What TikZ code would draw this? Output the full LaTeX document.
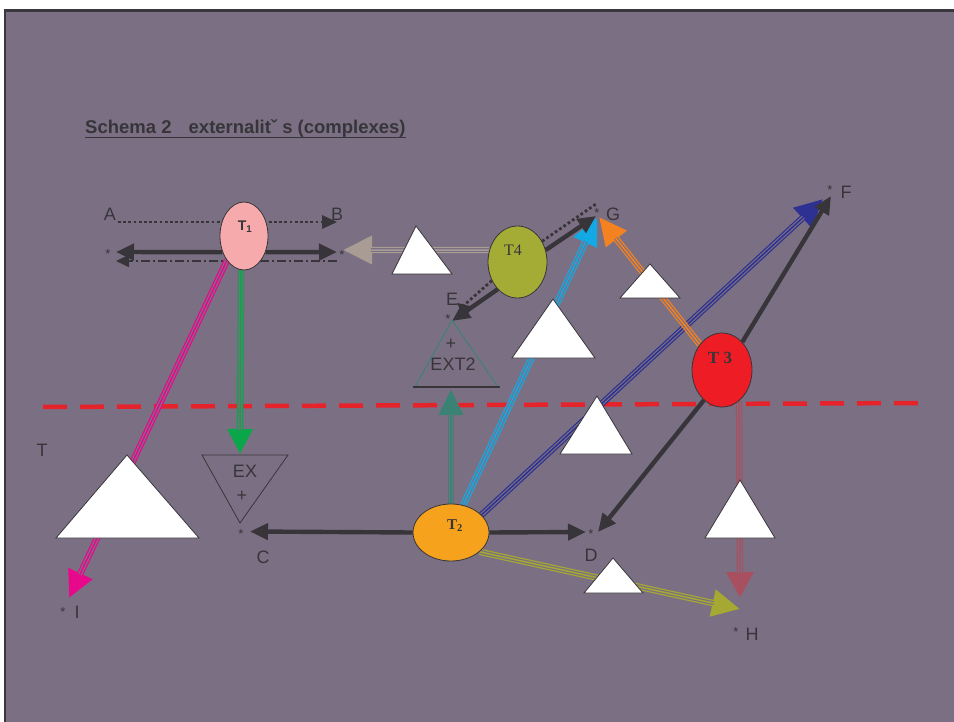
\documentclass[tikz,border=0pt]{standalone}
\usepackage{fontspec}
\setmainfont{Liberation Sans}
\newfontfamily\tnr{Liberation Serif}
\usetikzlibrary{arrows.meta,shapes.geometric}
\definecolor{bgc}{RGB}{123,112,131}
\definecolor{ink}{RGB}{55,53,58}
\definecolor{framec}{RGB}{58,56,62}
\definecolor{redd}{RGB}{229,35,42}
\definecolor{mag}{RGB}{232,8,140}
\definecolor{grn}{RGB}{12,166,74}
\definecolor{tealc}{RGB}{58,131,116}
\definecolor{sky}{RGB}{18,169,229}
\definecolor{navyc}{RGB}{46,49,146}
\definecolor{olivec}{RGB}{165,168,50}
\definecolor{orng}{RGB}{245,130,32}
\definecolor{mauve}{RGB}{168,80,95}
\definecolor{beige}{RGB}{168,156,149}
\definecolor{pinkT}{RGB}{247,170,172}
\definecolor{orT}{RGB}{246,162,29}
\definecolor{redT}{RGB}{238,28,37}
\definecolor{olT}{RGB}{165,172,53}
\pgfdeclarelayer{bglayer}
\pgfdeclarelayer{linelayer}
\pgfsetlayers{bglayer,linelayer,main}
% triple line with arrow head: colour, from, to, head length, head width
\newcommand\triline[5]{%
  \draw[#1, line width=6.4pt, -{Triangle[length=#4pt,width=#5pt]}] #2 -- #3;
  \draw[bgc, line width=3.9pt, shorten >=#4pt-1pt] #2 -- #3;
  \draw[#1, line width=1.5pt, shorten >=#4pt-1pt] #2 -- #3;}
\begin{document}
\begin{tikzpicture}[x=1pt,y=-1pt,
  lbl/.style={text=ink,font=\fontsize{18}{20}\selectfont,inner sep=0pt},
  starl/.style={text=ink,font=\fontsize{13}{13}\selectfont,inner sep=0pt},
  darr/.style={draw=ink,line width=4.4pt,-{Triangle[length=18pt,width=16pt]}},
  dotl/.style={draw=ink,line width=2.8pt,dash pattern=on 2.8pt off 2.4pt},
  extri/.style={fill=white,draw=ink,line width=0.8pt,line join=miter},
  ell/.style={ellipse,draw=ink,line width=0.8pt,inner sep=0pt}]
\useasboundingbox (0,0) rectangle (954,722);

\begin{pgfonlayer}{bglayer}
  \fill[white] (0,0) rectangle (954,722);
  \fill[bgc] (4.5,10.5) rectangle (960,730);
  \draw[framec,line width=2.6pt] (4.8,730) -- (4.8,10.8) -- (960,10.8);
  \coordinate (RL) at (43,407);
  \coordinate (RR) at (920,403);
  \draw[redd,line width=4.5pt,dash pattern=on 24pt off 13pt] (RL) -- (RR);
\end{pgfonlayer}

% ellipses
\node[ell,fill=pinkT,minimum width=48pt,minimum height=68pt] (T1) at (244,236) {};
\node[ell,fill=orT,minimum width=76pt,minimum height=57pt] (T2) at (451,532.5) {};
\node[ell,fill=redT,minimum width=60pt,minimum height=74pt] (T3) at (722,370) {};
\node[ell,fill=olT,minimum width=59pt,minimum height=72pt] (T4) at (517.5,262) {};

% end points
\coordinate (Ad) at (118,222);
\coordinate (Bt) at (337,222);
\coordinate (SL) at (116,252);
\coordinate (SR) at (337,252);
\coordinate (DDl) at (116,261);
\coordinate (DDr) at (337,261);
\coordinate (Itip) at (69,598);
\coordinate (EXt) at (240,454);
\coordinate (Ctip) at (250,531.5);
\coordinate (Dtip) at (586,532);
\coordinate (D2) at (598,532);
\coordinate (EXTt) at (451,389);
\coordinate (G1) at (597,217);
\coordinate (G2) at (596,216);
\coordinate (G3) at (599,217);
\coordinate (Gd) at (596,204);
\coordinate (F1) at (823,199);
\coordinate (F2) at (831,196);
\coordinate (H1) at (740,609);
\coordinate (H2) at (740,598);
\coordinate (BB) at (343,250);
\coordinate (E1) at (457,303);
\coordinate (E2) at (452,321);

\begin{pgfonlayer}{linelayer}
  % T1
  \draw[dotl] (Ad) -- ([xshift=-14pt]Bt);
  \fill[ink] (Bt) -- ++(-15,-7) -- ++(0,14) -- cycle;
  \draw[ink,line width=1.8pt,dash pattern=on 9pt off 3pt on 2pt off 3pt,-{Triangle[length=13pt,width=12pt]}] (DDr) -- (DDl);
  \draw[darr] (T1.217) -- (SL);
  \draw[darr] (T1.-37) -- (SR);
  \triline{mag}{(T1.235)}{(Itip)}{27}{25}
  \triline{grn}{(T1.265)}{(EXt)}{25}{24}
  % T4
  \triline{beige}{(T4.157)}{(BB)}{29}{27}
  \draw[dotl] (T4.40) -- (Gd);
  \draw[dotl] (T4.216) -- ([xshift=5pt,yshift=-4pt]E1);
  \draw[ink,line width=0.1pt,-{Triangle[length=15pt,width=14pt]}] ([xshift=5pt,yshift=-4pt]E1) -- (E1);
  \draw[darr] (T4.234) -- (E2);
  % T2
  \draw[darr] (T2.west) -- (Ctip);
  \draw[darr] (T2.east) -- (Dtip);
  \triline{tealc}{(T2.north)}{(EXTt)}{26}{23}
  \triline{sky}{(T2.66)}{(G1)}{28}{24}
  \triline{navyc}{(T2.30)}{(F1)}{28}{26}
  \triline{olivec}{(T2.-34)}{(H1)}{28}{26}
  % T3
  \triline{orng}{(T3.131)}{(G3)}{28}{25}
  \triline{mauve}{(T3.-61)}{(H2)}{26}{26}
  \draw[darr] (T3.54) -- (F2);
  \draw[darr] (T3.239) -- (D2);
  \draw[darr] (T4.23) -- (G2);
\end{pgfonlayer}

% externality triangles
\draw[extri] (127,455) -- (56,538) -- (199,538) -- cycle;
\draw[extri] (416,226) -- (392,274) -- (452,274) -- cycle;
\draw[extri] (553,299) -- (512,358) -- (595,358) -- cycle;
\draw[extri] (650,264) -- (620,298) -- (680,298) -- cycle;
\draw[extri] (597,396) -- (560,454) -- (632,454) -- cycle;
\draw[extri] (740,480) -- (705,538) -- (775,538) -- cycle;
\draw[extri] (613,558) -- (584,593) -- (643,593) -- cycle;
% EX and EXT2
\draw[ink,line width=0.8pt,line join=miter] (202,455) -- (288,455) -- (240,523) -- cycle;
\draw[tealc,line width=0.9pt] (415,387) -- (452,320) -- (498,387);
\draw[ink,line width=1.2pt] (413,387) -- (500,387);

% ellipse labels
\node[text=ink,font=\fontsize{14}{14}\selectfont\bfseries,inner sep=0pt] (T1l) at (245,227) {T\textsubscript{1}};
\node[text=ink,font=\tnr\fontsize{15}{15}\selectfont\bfseries,inner sep=0pt] (T2l) at (455,526) {T\textsubscript{2}};
\node[text=ink,font=\tnr\fontsize{17}{17}\selectfont\bfseries,inner sep=0pt] (T3l) at (720,358) {T 3};
\node[text=ink,font=\tnr\fontsize{16}{16}\selectfont,inner sep=0pt] (T4l) at (513,250) {T4};

% title
\node[anchor=base west,text=ink,font=\fontsize{18.5}{20}\selectfont\bfseries,inner sep=0pt] (title) at (85,134) {Schema 2\hspace{12pt} externalitˇ s (complexes)};
\draw[ink,line width=1.8pt] ([yshift=-3.5pt]title.base west) -- ([yshift=-3.5pt]title.base east);

% labels
\node[lbl] (A) at (110,214) {A};
\node[lbl] (B) at (337,214) {B};
\node[starl] (s1) at (108,254) {*};
\node[starl] (s2) at (342,255) {*};
\node[lbl] (Tl) at (42,450) {T};
\node[starl] (s3) at (63,612) {*};
\node[lbl] (I) at (77,612) {I};
\node[lbl] (EX) at (245,471) {EX};
\node[lbl] (p1) at (242,496) {+};
\node[starl] (s4) at (241,534) {*};
\node[lbl] (C) at (263,557) {C};
\node[lbl] (p2) at (451,344) {+};
\node[lbl] (EXT2) at (453,364) {EXT2};
\node[starl] (s5) at (448,319) {*};
\node[lbl] (E) at (452,299) {E};
\node[starl] (s6) at (591,534) {*};
\node[lbl] (D) at (591,555) {D};
\node[starl] (s7) at (597,213) {*};
\node[lbl] (G) at (613,214) {G};
\node[starl] (s8) at (830,190) {*};
\node[lbl] (F) at (846,192) {F};
\node[starl] (s9) at (736,632) {*};
\node[lbl] (H) at (752,634) {H};
\end{tikzpicture}
\end{document}
